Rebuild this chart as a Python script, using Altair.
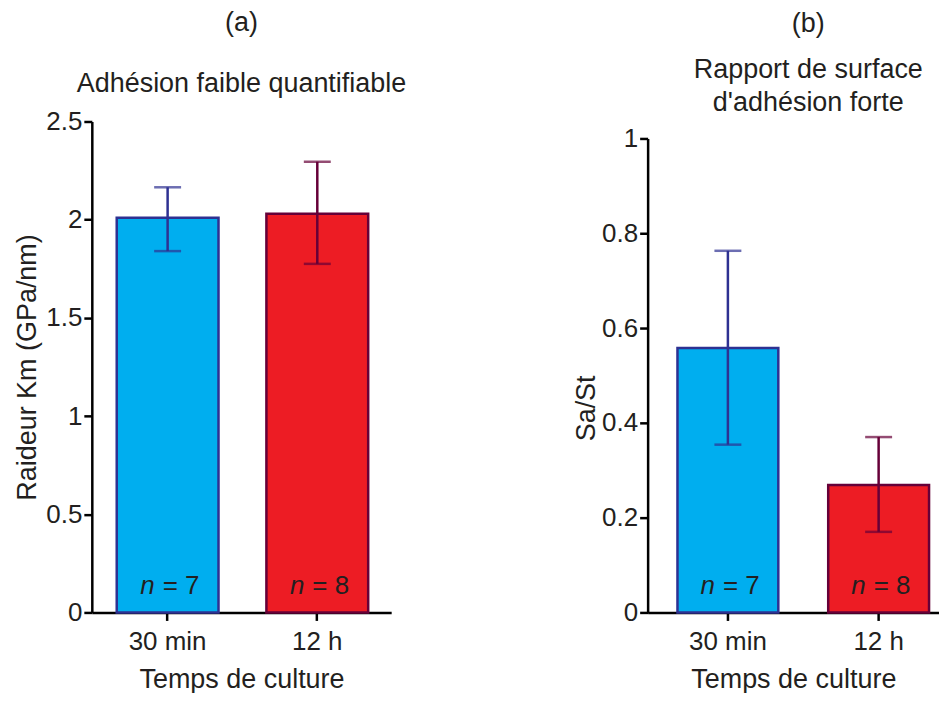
import altair as alt
import pandas as pd

categories = ["30 min", "12 h"]
a_mean = [2.01, 2.03]
a_low = [1.84, 1.775]
a_high = [2.165, 2.295]
b_mean = [0.558, 0.269]
b_low = [0.354, 0.17]
b_high = [0.763, 0.37]
n_values = ["= 7", "= 8"]
a_ticks = [0, 0.5, 1, 1.5, 2, 2.5]
b_ticks = [0, 0.2, 0.4, 0.6, 0.8, 1]
fills = ["#00AEEF", "#ED1C24"]
strokes = ["#2E3192", "#660038"]

FONT = "Liberation Sans"
TXT = "#231F20"


def panel(mean, low, high, ytitle, ydomain, yticks, yrange, width, pin, pout,
          palign, title, subtitle, sub_pad, offset, dx, yaxis_extra):
    df = pd.DataFrame({"cat": categories, "mean": mean, "low": low,
                       "high": high, "n": n_values})
    xscale = alt.Scale(paddingInner=pin, paddingOuter=pout, align=palign)
    x = alt.X("cat:N", sort=categories, scale=xscale,
              axis=alt.Axis(title="Temps de culture", labelAngle=0,
                            labelPadding=8, titlePadding=12))
    xs = alt.X("cat:N", sort=categories)
    yscale = alt.Scale(domain=ydomain, range=yrange, nice=False, zero=True)
    y = alt.Y("mean:Q", scale=yscale,
              axis=alt.Axis(title=ytitle, values=yticks, format="~g",
                            labelPadding=2, **yaxis_extra))
    fill = alt.Fill("cat:N", scale=alt.Scale(domain=categories, range=fills),
                    legend=None)
    stroke = alt.Stroke("cat:N",
                        scale=alt.Scale(domain=categories, range=strokes),
                        legend=None)
    col = alt.Color("cat:N", scale=alt.Scale(domain=categories, range=strokes),
                    legend=None)
    base = alt.Chart(df)
    bars = base.mark_bar(strokeWidth=2.5).encode(x=x, y=y, fill=fill,
                                                 stroke=stroke)
    rule = base.mark_rule(strokeWidth=2.5).encode(
        x=xs, y="low:Q", y2="high:Q", color=col)
    cap_lo = base.mark_tick(size=27, thickness=2.5).encode(
        x=xs, y="low:Q", color=col)
    cap_hi = base.mark_tick(size=27, thickness=2.5).encode(
        x=xs, y="high:Q", color=col)
    n_it = base.mark_text(font=FONT, fontSize=26, fontStyle="italic",
                          align="right", baseline="alphabetic", dx=-13,
                          dy=-18, color=TXT).encode(
        x=xs, y=alt.datum(0), text=alt.value("n"))
    n_rest = base.mark_text(font=FONT, fontSize=26, align="left",
                            baseline="alphabetic", dx=-5, dy=-18,
                            color=TXT).encode(
        x=xs, y=alt.datum(0), text="n:N")
    return alt.layer(bars, rule, cap_lo, cap_hi, n_it, n_rest).properties(
        width=width, height=492,
        title=alt.TitleParams(text=title, subtitle=subtitle, font=FONT,
                              subtitleFont=FONT, fontSize=27,
                              subtitleFontSize=27, fontWeight="normal",
                              color=TXT, subtitleColor=TXT,
                              subtitlePadding=sub_pad, offset=offset,
                              frame="group", anchor="middle", dx=dx,
                              subtitleLineHeight=33),
    )


pa = panel(a_mean, a_low, a_high, "Raideur Km (GPa/nm)", [0, 2.5], a_ticks,
           [492, 0], 300, 0.32, 0.16, 0.52,
           "(a)", "Adhésion faible quantifiable", 34, 11, 0,
           {"titlePadding": 4})
pb = panel(b_mean, b_low, b_high, "Sa/St", [0, 1], b_ticks, [492, 17],
           292, 0.331, 0.132, 0.75,
           "(b)", ["Rapport de surface", "d'adhésion forte"], 19, 5, 15,
           {"titlePadding": 1, "titleY": 287})

chart = alt.hconcat(pa, pb, spacing=257, bounds="flush").properties(
    padding={"left": 5, "top": 0, "right": 0, "bottom": 0}
).configure_view(stroke=None).configure_axis(
    domainColor="black", domainWidth=2.5, tickColor="black", tickWidth=2.5,
    tickSize=8, grid=False, labelFont=FONT, labelFontSize=26,
    labelColor=TXT, titleFont=FONT, titleFontSize=27,
    titleFontWeight="normal", titleColor=TXT,
)

chart.save("out.html", embed_options={"renderer": "svg", "actions": False})
